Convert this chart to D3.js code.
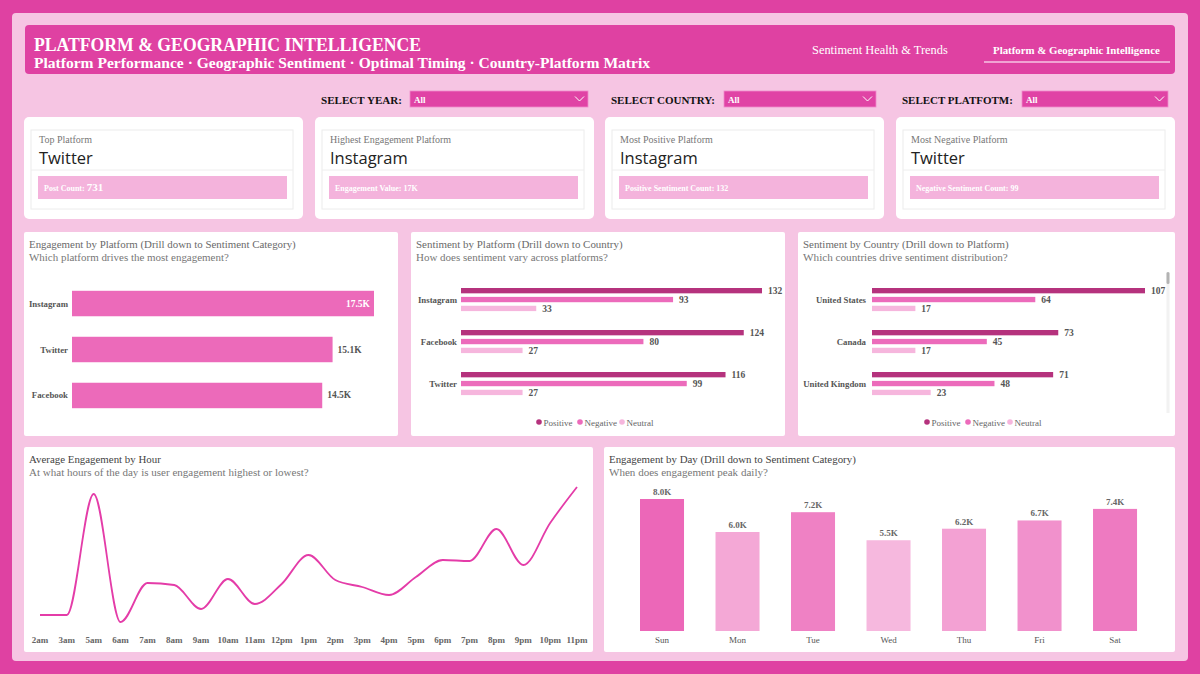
<!DOCTYPE html>
<html>
<head>
<meta charset="utf-8">
<script src="https://cdn.jsdelivr.net/npm/d3@7"></script>
<style>
  html, body { margin: 0; padding: 0; background: #e043a3; }
  svg { display: block; }
</style>
</head>
<body>
<svg id="dash" width="1200" height="674"></svg>
<script>
// ===== data =====
const filterLabels = ['SELECT YEAR:', 'SELECT COUNTRY:', 'SELECT PLATFOTM:'];
const filterValues = ['All', 'All', 'All'];

const kpiTitles = ['Top Platform', 'Highest Engagement Platform', 'Most Positive Platform', 'Most Negative Platform'];
const kpiValues = ['Twitter', 'Instagram', 'Instagram', 'Twitter'];
const kpiDetailLabels = ['Post Count:', 'Engagement Value:', 'Positive Sentiment Count:', 'Negative Sentiment Count:'];
const kpiDetailValues = ['731', '17K', '132', '99'];

// engagement by platform, thousands
const platforms = ['Instagram', 'Twitter', 'Facebook'];
const platformEngagement = [17.5, 15.1, 14.5];

// sentiment by platform
const sentimentKeys = ['Positive', 'Negative', 'Neutral'];
const sentimentPlatforms = ['Instagram', 'Facebook', 'Twitter'];
const platformPositive = [132, 124, 116];
const platformNegative = [93, 80, 99];
const platformNeutral = [33, 27, 27];

// sentiment by country
const countries = ['United States', 'Canada', 'United Kingdom'];
const countryPositive = [107, 73, 71];
const countryNegative = [64, 45, 48];
const countryNeutral = [17, 17, 23];

// average engagement by hour (no 4am bucket in the source)
const hours = ['2am', '3am', '5am', '6am', '7am', '8am', '9am', '10am', '11am', '12pm', '1pm',
               '2pm', '3pm', '4pm', '5pm', '6pm', '7pm', '8pm', '9pm', '10pm', '11pm'];
const hourEngagement = [15.7, 15.7, 27.8, 15.0, 18.9, 18.7, 16.3, 19.3, 16.8, 18.8, 21.7,
                        19.2, 18.5, 17.7, 19.5, 21.2, 21.1, 24.3, 20.7, 24.9, 28.5];

// engagement by day, thousands
const days = ['Sun', 'Mon', 'Tue', 'Wed', 'Thu', 'Fri', 'Sat'];
const dayEngagement = [8.0, 6.0, 7.2, 5.5, 6.2, 6.7, 7.4];

// ----- look -----
const SERIF = "'Liberation Serif','DejaVu Serif',serif";
const SANS = "'Open Sans','Noto Sans',sans-serif";
const MAGENTA = '#df41a2';
const BG = '#f6c5e3';
const sentimentColors = ['#b5327d', '#ec6bbb', '#f6b6dd'];

const svg = d3.select('#dash');

// small text helper, w = optional target width (font size is scaled to it)
function label(g, x, y, str, o = {}) {
  const size = o.size || 11;
  const t = g.append('text')
    .attr('x', x).attr('y', y)
    .attr('font-family', o.family || SERIF)
    .attr('font-size', size)
    .attr('font-weight', o.weight || 'normal')
    .attr('fill', o.fill || '#666')
    .attr('text-anchor', o.anchor || 'start')
    .text(str);
  if (o.w) {
    const len = t.node().getComputedTextLength();
    if (len > 0) {
      const k = o.stretch ? 1 : Math.max(0.85, Math.min(1.15, o.w / len));
      t.attr('font-size', size * k);
      const len2 = t.node().getComputedTextLength();
      if (Math.abs(len2 - o.w) > 2) t.attr('textLength', o.w).attr('lengthAdjust', 'spacingAndGlyphs');
    }
  }
  return t;
}

// ===== background + header =====
svg.append('rect').attr('width', 1200).attr('height', 674).attr('fill', MAGENTA);
svg.append('rect').attr('x', 12).attr('y', 13).attr('width', 1176).attr('height', 648)
  .attr('rx', 4).attr('fill', BG);

svg.append('rect').attr('x', 25).attr('y', 25).attr('width', 1150).attr('height', 49)
  .attr('rx', 4).attr('fill', MAGENTA);
label(svg, 34, 51, 'PLATFORM & GEOGRAPHIC INTELLIGENCE', { size: 19, weight: 'bold', fill: '#fff', w: 387, stretch: true });
label(svg, 34, 67.5, 'Platform Performance · Geographic Sentiment · Optimal Timing · Country-Platform Matrix',
  { size: 14, weight: 'bold', fill: '#fff', w: 616, stretch: true });

label(svg, 812, 54, 'Sentiment Health & Trends', { size: 12, fill: '#fff', w: 136 });
label(svg, 993, 54, 'Platform & Geographic Intelligence', { size: 10.5, weight: 'bold', fill: '#fff', w: 167 });
svg.append('line').attr('x1', 984).attr('x2', 1170).attr('y1', 62).attr('y2', 62)
  .attr('stroke', '#f6c5e3').attr('stroke-width', 1.5);

// ===== slicers =====
const filterLabelX = [321, 611, 902];
const filterLabelW = [81, 104, 111];
const filterBoxX = [410, 724, 1022];
const filterBoxW = [178, 152, 146];
filterLabels.forEach((f, i) => {
  label(svg, filterLabelX[i], 104, f, { size: 12.5, weight: 'bold', fill: '#111', w: filterLabelW[i] });
  const bx = filterBoxX[i], bw = filterBoxW[i];
  svg.append('rect').attr('x', bx).attr('y', 91).attr('width', bw).attr('height', 16)
    .attr('fill', '#e043a5').attr('stroke', '#f08acb').attr('stroke-width', 0.8);
  label(svg, bx + 4, 103, filterValues[i], { size: 9, weight: 'bold', fill: '#fff' });
  const r = bx + bw;
  svg.append('path')
    .attr('d', `M${r - 13},96.5 L${r - 8.5},101 L${r - 4},96.5`)
    .attr('fill', 'none').attr('stroke', '#fff').attr('stroke-width', 1);
});

// ===== KPI cards =====
const cardX = [24, 315, 605, 896];
kpiTitles.forEach((t, i) => {
  const g = svg.append('g').attr('transform', `translate(${cardX[i]},117)`);
  g.append('rect').attr('width', 279).attr('height', 102).attr('rx', 5).attr('fill', '#fff');
  g.append('rect').attr('x', 7).attr('y', 13).attr('width', 262).attr('height', 79)
    .attr('fill', '#fff').attr('stroke', '#ececec');
  label(g, 15, 26, t, { size: 10, fill: '#777' });
  label(g, 15, 47, kpiValues[i], { family: SANS, size: 16.5, fill: '#222' });
  g.append('line').attr('x1', 7).attr('x2', 269).attr('y1', 53).attr('y2', 53).attr('stroke', '#eeeeee');
  g.append('rect').attr('x', 14).attr('y', 59).attr('width', 249).attr('height', 23).attr('fill', '#f4b3dc');
  const d = label(g, 20, 74, kpiDetailLabels[i] + ' ', { size: 8, weight: 'bold', fill: '#fff' });
  d.append('tspan').attr('font-size', i === 0 ? 11 : 8).text(kpiDetailValues[i]);
});

// ===== panels =====
function panel(x, y, w, h, title, sub, o = {}) {
  const g = svg.append('g').attr('transform', `translate(${x},${y})`);
  g.append('rect').attr('width', w).attr('height', h).attr('rx', 2).attr('fill', '#fff');
  label(g, 5, 16, title, { size: 11, fill: o.titleFill || '#6a6a6a', w: o.tw });
  label(g, 5, 29, sub, { size: 11, fill: '#777', w: o.sw });
  return g;
}

// --- Engagement by Platform ---
const p1 = panel(24, 232, 374, 204, 'Engagement by Platform (Drill down to Sentiment Category)',
  'Which platform drives the most engagement?', { tw: 267, sw: 200 });
const x1 = d3.scaleLinear().domain([0, d3.max(platformEngagement)]).range([48, 350]);
const y1 = d3.scaleBand().domain(platforms).range([45, 190]).paddingInner(0.446).paddingOuter(0.3);
const fmtK = v => d3.format('.1f')(v) + 'K';
platforms.forEach((p, i) => {
  const v = platformEngagement[i];
  const yy = y1(p);
  p1.append('rect').attr('x', x1(0)).attr('y', yy)
    .attr('width', x1(v) - x1(0)).attr('height', y1.bandwidth()).attr('fill', '#ec6aba');
  const inside = v === d3.max(platformEngagement);
  label(p1, inside ? x1(v) - 4 : x1(v) + 5, yy + y1.bandwidth() / 2 + 3, fmtK(v),
    { size: 9.5, weight: 'bold', fill: inside ? '#fff' : '#555', anchor: inside ? 'end' : 'start' });
  label(p1, 44, yy + y1.bandwidth() / 2 + 3, p, { size: 8.8, weight: 'bold', fill: '#555', anchor: 'end' });
});

// --- grouped sentiment bars ---
function groupedBars(g, cats, series, xr, labelX, legendX) {
  const all = series.flat();
  const x = d3.scaleLinear().domain([0, d3.max(all)]).range(xr);
  const yG = d3.scaleBand().domain(cats).range([43.4, 175.7]).paddingInner(0.45).paddingOuter(0.3);
  const yS = d3.scaleBand().domain(sentimentKeys).range([0, yG.bandwidth()]).paddingInner(0.4);
  cats.forEach((c, i) => {
    sentimentKeys.forEach((k, j) => {
      const v = series[j][i];
      const yy = yG(c) + yS(k);
      g.append('rect').attr('x', x(0)).attr('y', yy)
        .attr('width', x(v) - x(0)).attr('height', yS.bandwidth()).attr('fill', sentimentColors[j]);
      label(g, x(v) + 6, yy + yS.bandwidth() / 2 + 3.5, v, { size: 9.5, weight: 'bold', fill: '#555' });
    });
    label(g, labelX, yG(c) + yG.bandwidth() / 2 + 3, c, { size: 8.8, weight: 'bold', fill: '#555', anchor: 'end' });
  });
  sentimentKeys.forEach((k, j) => {
    g.append('circle').attr('cx', legendX[j]).attr('cy', 190).attr('r', 2.8).attr('fill', sentimentColors[j]);
    label(g, legendX[j] + 4.5, 193.5, k, { size: 9, fill: '#666' });
  });
}

const p2 = panel(411, 232, 374, 204, 'Sentiment by Platform (Drill down to Country)',
  'How does sentiment vary across platforms?', { tw: 207, sw: 192 });
groupedBars(p2, sentimentPlatforms, [platformPositive, platformNegative, platformNeutral],
  [50, 351], 46, [128, 169, 211]);

const p3 = panel(798, 232, 377, 204, 'Sentiment by Country (Drill down to Platform)',
  'Which countries drive sentiment distribution?', { tw: 206, sw: 205 });
groupedBars(p3, countries, [countryPositive, countryNegative, countryNeutral],
  [74, 347], 68, [129, 170, 212]);
p3.append('rect').attr('x', 368.5).attr('y', 40).attr('width', 3).attr('height', 141).attr('fill', '#f2f2f2');
p3.append('rect').attr('x', 368.5).attr('y', 40).attr('width', 3).attr('height', 12).attr('rx', 1.5).attr('fill', '#b3b3b3');

// --- Average Engagement by Hour ---
const p4 = panel(24, 447, 569, 205, 'Average Engagement by Hour',
  'At what hours of the day is user engagement highest or lowest?', { titleFill: '#444', tw: 132, sw: 280 });
const x4 = d3.scalePoint().domain(hours).range([16, 553]);
const y4 = d3.scaleLinear().domain(d3.extent(hourEngagement)).range([175, 40]);
const line = d3.line().x((d, i) => x4(hours[i])).y(d => y4(d)).curve(d3.curveMonotoneX);
p4.append('path').datum(hourEngagement).attr('d', line)
  .attr('fill', 'none').attr('stroke', '#e43ca8').attr('stroke-width', 1.8);
hours.forEach(h => label(p4, x4(h), 196, h, { size: 9, weight: 'bold', fill: '#666', anchor: 'middle' }));

// --- Engagement by Day ---
const p5 = panel(604, 447, 571, 205, 'Engagement by Day (Drill down to Sentiment Category)',
  'When does engagement peak daily?', { titleFill: '#444', tw: 247, sw: 159 });
const x5 = d3.scaleBand().domain(days).range([13.35, 555.7]).paddingInner(0.417).paddingOuter(0.3);
const y5 = d3.scaleLinear().domain([0, d3.max(dayEngagement)]).range([184, 52]);
const c5 = d3.scaleLinear().domain(d3.extent(dayEngagement)).range(['#f6b8de', '#ec67b8']);
days.forEach((d, i) => {
  const v = dayEngagement[i];
  p5.append('rect').attr('x', x5(d)).attr('y', y5(v))
    .attr('width', x5.bandwidth()).attr('height', y5(0) - y5(v)).attr('fill', c5(v));
  label(p5, x5(d) + x5.bandwidth() / 2, y5(v) - 4, fmtK(v), { size: 9, weight: 'bold', fill: '#666', anchor: 'middle' });
  label(p5, x5(d) + x5.bandwidth() / 2, 196, d, { size: 9, fill: '#555', anchor: 'middle' });
});
</script>
</body>
</html>
